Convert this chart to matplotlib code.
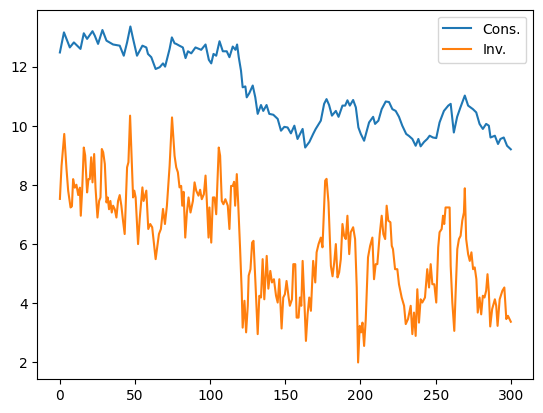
import matplotlib.pyplot as plt

# Cons. series
cons_t = [0, 2.7, 6.6, 9.3, 13.7, 15.9, 18.1, 21.7, 23.2, 25.4, 28.3, 31, 35.4, 39.8, 42.5,
          44.7, 46.9, 48.7, 51.3, 54.9, 57.5, 58.6, 60.8, 63.7, 66.4, 68.6, 70, 73, 74.5,
          76.3, 77.4, 79.5, 81.8, 83.6, 85.2, 87.4, 90.2, 94, 96.9, 99.1, 100.7, 102.2, 104,
          106.2, 108.4, 111, 112.8, 115, 116.8, 117.9, 119, 120.5, 121.6, 123.4, 124.3, 126,
          128.3, 130, 131.6, 133.8, 135.3, 137.5, 139.3, 142, 144.9, 147.1, 149.3, 151.5,
          153.7, 156, 158.1, 161.5, 163.2, 166, 168.5, 170.2, 173.6, 175.8, 177.4, 179.1,
          181, 183.6, 185.4, 188, 189.8, 191.3, 192.9, 195.1, 196.9, 198.6, 200.2, 202.4,
          205.7, 208.4, 209.7, 211.9, 214.1, 216.8, 219, 221.2, 223.4, 225.6, 227.8, 230.4,
          232.3, 234.5, 236.7, 238.5, 240, 242.3, 244.4, 246, 248.2, 250.4, 252.6, 255.5,
          258.4, 260, 262.1, 264.3, 266.5, 269.4, 271.6, 274.8, 277, 279.2, 281.4, 283.6,
          285.4, 286.5, 289.4, 291.5, 293.1, 295.3, 297.5, 300]
cons = [12.48, 13.16, 12.65, 12.82, 12.6, 13.13, 12.94, 13.2, 13.05, 12.77, 13.24, 12.88,
        12.75, 12.71, 12.37, 12.82, 13.36, 12.94, 12.37, 12.71, 12.65, 12.43, 12.32, 11.92,
        11.98, 12.11, 12.0, 12.6, 12.99, 12.79, 12.77, 12.71, 12.65, 12.29, 12.52, 12.45,
        12.65, 12.57, 12.75, 12.23, 12.11, 12.43, 12.37, 12.86, 12.52, 12.52, 12.32, 12.68,
        12.57, 12.75, 12.32, 11.86, 11.3, 11.33, 10.96, 11.1, 11.36, 10.96, 10.4, 10.7,
        10.5, 10.7, 10.4, 10.37, 10.23, 9.83, 9.96, 9.94, 9.74, 10.0, 9.55, 9.89, 9.26,
        9.45, 9.72, 9.89, 10.17, 10.74, 10.9, 10.7, 10.34, 10.5, 10.3, 10.68, 10.68, 10.86,
        10.68, 10.87, 10.62, 9.94, 9.72, 9.49, 10.11, 10.3, 10.06, 10.17, 10.56, 10.82,
        10.8, 10.56, 10.5, 10.3, 10.0, 9.72, 9.65, 9.55, 9.32, 9.55, 9.3, 9.45, 9.55, 9.66,
        9.6, 9.58, 10.11, 10.5, 10.68, 10.74, 9.77, 10.3, 10.62, 11.02, 10.68, 10.56, 10.45,
        10.06, 9.89, 10.06, 10.0, 9.6, 9.66, 9.38, 9.55, 9.6, 9.32, 9.2]

# Inv. series
inv_t = [0, 1.1, 2.9, 4.4, 5.5, 7.1, 8, 8.8, 9.9, 11, 12.2, 13.3, 13.9, 14.8, 15.9, 16.8,
         18.1, 19, 19.9, 20.8, 21.7, 22.8, 23.7, 25, 26.1, 27, 27.9, 28.8, 29.9, 31, 31.8,
         32.7, 33.6, 34.5, 35.4, 36.5, 37.6, 38.7, 39.8, 40.9, 42, 43.1, 44.7, 45.6, 46.7,
         47.6, 48.7, 49.5, 50.4, 52, 53.1, 54.9, 55.7, 57.5, 58.8, 60.1, 61.4, 63.7, 65.9,
         67.2, 68.6, 69.9, 71.2, 73, 74.6, 76.3, 77.4, 78.5, 79.6, 80.7, 81.4, 82.3, 83.4,
         84.5, 85.6, 86.9, 88.5, 89.6, 90.7, 92.2, 93.3, 94.4, 95.8, 96.9, 97.7, 98.9, 99.5,
         100.7, 101.8, 102.9, 104, 105.7, 106.6, 107.7, 108.8, 110.1, 111.7, 112.8, 113.9,
         115, 115.9, 116.6, 117.7, 118.6, 119.9, 121, 121.6, 122.8, 123.9, 125, 125.6,
         126.8, 127.9, 128.8, 130.1, 131.6, 132.7, 133.8, 134.9, 136, 137.6, 138.7, 140,
         141.1, 142.4, 143.8, 144.9, 146, 147.5, 148.6, 149.7, 150.8, 152.2, 153, 154.4,
         155.3, 156.6, 157.5, 158.8, 159.7, 160.6, 161.5, 162.6, 163.7, 164.8, 165.9, 167,
         168.5, 169.9, 170.8, 172.1, 173.6, 174.7, 176.5, 177.4, 178.7, 180.3, 181.4, 182.5,
         183.6, 184.7, 185.8, 186.9, 188, 189.1, 190.2, 191.3, 192.5, 193.5, 195.1, 196.4,
         197.5, 198.4, 199.5, 200.4, 201.3, 202.4, 203.5, 205, 206.4, 207.9, 209, 210.1,
         211.2, 212.8, 214.1, 215.2, 216.4, 217.4, 218.5, 219.9, 220.8, 221.6, 223, 224.5,
         225.6, 227.4, 229, 230.1, 231.6, 233.4, 234.5, 235.6, 236.7, 237.8, 238.9, 240,
         241.1, 242.9, 244.4, 245.6, 246.7, 247.8, 249.1, 250.4, 251.7, 252.6, 254, 254.9,
         255.7, 256.6, 258, 259.3, 260, 261.1, 262.4, 263.3, 264.4, 265.5, 266.6, 267.7,
         268.8, 269.4, 270.3, 271.6, 272.7, 273.8, 274.9, 276, 277.1, 278, 279.2, 280.3,
         281.4, 282.5, 283.6, 284.5, 285.4, 286.3, 287.6, 289.4, 290.3, 291.2, 292.6, 294.4,
         295.7, 297, 298.1, 300]
inv = [7.52, 8.64, 9.72, 8.53, 7.8, 7.23, 7.27, 8.19, 7.9, 8.0, 7.65, 7.9, 6.95, 7.8, 9.26,
       9.0, 7.74, 8.19, 8.19, 8.93, 8.08, 9.04, 7.9, 6.89, 7.45, 7.57, 9.21, 9.1, 8.7, 7.4,
       7.57, 7.17, 7.45, 7.06, 7.29, 7.17, 6.89, 7.45, 7.65, 7.29, 6.78, 6.33, 8.59, 8.76,
       10.34, 9.1, 7.57, 7.8, 7.57, 5.99, 6.84, 7.91, 7.45, 7.8, 6.5, 6.67, 6.56, 5.48,
       6.33, 6.5, 7.18, 6.67, 7.29, 8.64, 10.28, 8.98, 8.59, 8.42, 7.91, 7.96, 7.29, 7.76,
       6.21, 7.06, 7.57, 7.06, 7.45, 8.08, 7.8, 7.63, 7.83, 7.51, 7.68, 8.31, 7.51, 6.21,
       7.23, 6.04, 7.57, 7.57, 7.0, 9.26, 8.98, 7.45, 7.34, 7.51, 7.29, 6.5, 7.96, 7.96,
       8.1, 7.29, 8.36, 7.4, 5.82, 4.35, 3.16, 4.07, 3.0, 3.9, 4.92, 5.14, 6.04, 6.1, 4.69,
       2.94, 4.24, 4.18, 5.48, 4.12, 5.59, 4.48, 5.08, 4.69, 4.8, 4.24, 4.01, 4.8, 3.13,
       4.18, 4.29, 4.74, 4.18, 3.9, 4.12, 5.31, 5.31, 3.5, 3.5, 4.18, 3.9, 5.42, 4.12, 2.71,
       3.61, 4.18, 3.73, 5.42, 4.69, 5.71, 5.99, 6.21, 5.88, 8.14, 8.2, 7.4, 5.25, 4.9,
       5.36, 5.99, 4.86, 5.03, 5.48, 6.67, 6.27, 6.16, 6.95, 5.65, 6.39, 6.56, 6.16, 4.52,
       1.98, 3.22, 3.0, 3.33, 2.54, 3.45, 5.54, 5.93, 6.21, 4.8, 5.31, 5.31, 6.33, 6.95,
       6.33, 6.16, 7.29, 6.78, 6.73, 5.93, 5.82, 5.14, 5.14, 4.63, 4.18, 3.9, 3.28, 3.45,
       3.9, 2.94, 3.67, 2.88, 4.46, 3.33, 4.12, 4.01, 4.18, 5.14, 4.52, 5.31, 4.63, 4.63,
       4.01, 5.88, 6.39, 6.5, 6.95, 6.67, 7.23, 7.23, 7.23, 5.25, 4.01, 3.05, 4.35, 5.82,
       6.16, 6.27, 6.78, 7.06, 7.88, 6.16, 5.65, 5.42, 5.71, 5.14, 5.2, 4.8, 3.67, 4.18,
       3.61, 4.24, 4.18, 4.41, 4.97, 4.35, 3.2, 3.79, 4.12, 3.9, 3.22, 4.12, 4.41, 4.52,
       3.45, 3.56, 3.36]

fig, ax = plt.subplots(figsize=(6.4, 4.8))
ax.plot(cons_t, cons, label='Cons.')
ax.plot(inv_t, inv, label='Inv.')
ax.legend()

plt.savefig('out.png', dpi=100, bbox_inches='tight')
